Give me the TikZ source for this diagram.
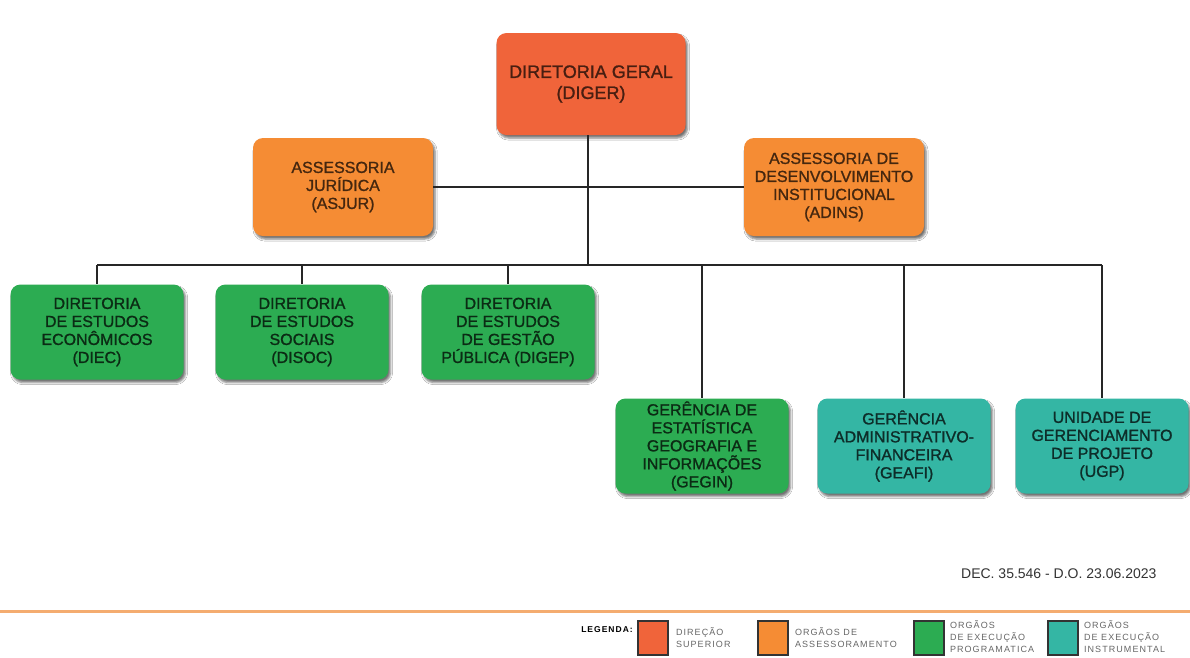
\documentclass[tikz,border=0pt]{standalone}
\usepackage{fontspec}
\setmainfont{Liberation Sans}
\newfontfamily\boxfont[FakeBold=1.2]{Liberation Sans}
\newfontfamily\legfont[LetterSpace=12]{Liberation Sans}
\usetikzlibrary{positioning,shadows.blur,calc}
\definecolor{superior}{RGB}{240,100,58}
\definecolor{assess}{RGB}{245,140,52}
\definecolor{progr}{RGB}{44,172,82}
\definecolor{instr}{RGB}{52,182,164}
\definecolor{rulecol}{RGB}{244,172,112}
\tikzset{
	unit/.style={rounded corners=10pt, minimum width=173pt, minimum height=95pt, align=center, inner sep=2pt,
		font=\boxfont\fontsize{16}{18}\selectfont,
		blur shadow={shadow xshift=2pt, shadow yshift=-3pt, shadow blur steps=4, shadow opacity=55}},
	unitsup/.style={unit, fill=superior, text=superior!30!black},
	unitass/.style={unit, fill=assess, text=assess!28!black},
	unitprog/.style={unit, fill=progr, text=progr!25!black},
	unitinst/.style={unit, fill=instr, text=instr!25!black},
	link/.style={line width=1.6pt, draw=black!85},
	legbox/.style={draw=black!80, line width=1.6pt, minimum width=30pt, minimum height=34pt, inner sep=0pt},
	legtxt/.style={anchor=west, align=left, text=black!60, inner sep=0pt, font=\legfont\fontsize{9}{12}\selectfont}
}
\begin{document}
\begin{tikzpicture}[x=1pt, y=-1pt]
		\useasboundingbox [fill=white] (0,0) rectangle (1190,657);
		% top
		\node [unitsup, minimum width=189pt, minimum height=102pt, font=\boxfont\fontsize{18}{21}\selectfont] (diger) at (591,84) {DIRETORIA GERAL\\(DIGER)};
		\node [unitass, minimum width=180pt, minimum height=98pt] (asjur) at (343,187) {ASSESSORIA\\JURÍDICA\\(ASJUR)};
		\node [unitass, minimum width=180pt, minimum height=98pt] (adins) at (834,187) {ASSESSORIA DE\\DESENVOLVIMENTO\\INSTITUCIONAL\\(ADINS)};
		% directorias
		\node [unitprog] (diec) at (97,332) {DIRETORIA\\DE ESTUDOS\\ECONÔMICOS\\(DIEC)};
		\node [unitprog] (disoc) at (302,332) {DIRETORIA\\DE ESTUDOS\\SOCIAIS\\(DISOC)};
		\node [unitprog] (digep) at (508,332) {DIRETORIA\\DE ESTUDOS\\DE GESTÃO\\PÚBLICA (DIGEP)};
		% gerencias
		\node [unitprog] (gegin) at (702,446) {GERÊNCIA DE\\ESTATÍSTICA\\GEOGRAFIA E\\INFORMAÇÕES\\(GEGIN)};
		\node [unitinst] (geafi) at (904,446) {GERÊNCIA\\ADMINISTRATIVO-\\FINANCEIRA\\(GEAFI)};
		\node [unitinst] (ugp) at (1102,446) {UNIDADE DE\\GERENCIAMENTO\\DE PROJETO\\(UGP)};
		% links
		\coordinate (bus) at (588,265);
		\draw [link] (asjur.east) -- (adins.west);
		\draw [link] (diger.south -| bus) -- (bus);
		\draw [link] (diec.north |- bus) -- (ugp.north |- bus);
		\foreach \n in {diec,disoc,digep,gegin,geafi,ugp}
			\draw [link] (\n.north |- bus) -- (\n.north);
		% footer
		\node [anchor=east, text=black!80, font=\fontsize{14}{16}\selectfont] (dec) at (1160,574) {DEC. 35.546 - D.O. 23.06.2023};
		\draw [rulecol, line width=3pt] (0,611) -- (1190,611);
		\node [anchor=east, inner sep=0pt, font=\legfont\bfseries\fontsize{8.5}{9}\selectfont] (leg) at (633,630) {LEGENDA:};
		\node [legbox, fill=superior] (l1) at (653,638) {};
		\node [legtxt] (t1) at ($(l1.east)+(7,0)$) {DIREÇÃO\\SUPERIOR};
		\node [legbox, fill=assess] (l2) at (773,638) {};
		\node [legtxt] (t2) at ($(l2.east)+(6,0)$) {ORGÃOS DE\\ASSESSORAMENTO};
		\node [legbox, fill=progr] (l3) at (929,638) {};
		\node [legtxt] (t3) at ($(l3.east)+(5,-1)$) {ORGÃOS\\DE EXECUÇÃO\\PROGRAMATICA};
		\node [legbox, fill=instr] (l4) at (1063,638) {};
		\node [legtxt] (t4) at ($(l4.east)+(5,-1)$) {ORGÃOS\\DE EXECUÇÃO\\INSTRUMENTAL};
\end{tikzpicture}
\end{document}
